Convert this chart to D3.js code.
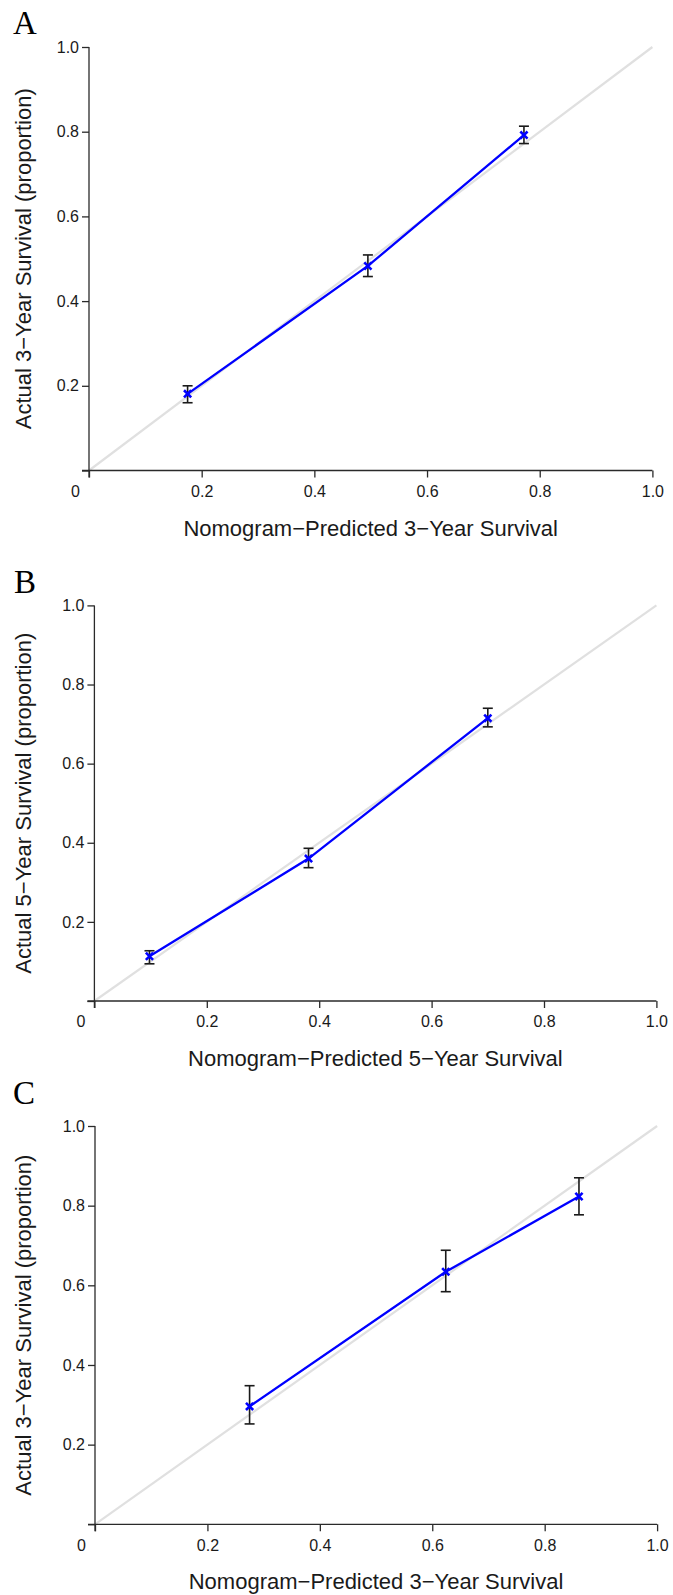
<!DOCTYPE html>
<html>
<head>
<meta charset="utf-8">
<script src="https://cdn.jsdelivr.net/npm/d3@7"></script>
<style>
  html, body { margin: 0; padding: 0; background: #ffffff; }
  svg { display: block; }
</style>
</head>
<body>
<script>
// Calibration curves: nomogram-predicted vs. observed survival, three panels.
const panelLabels = ["A", "B", "C"];
const xTitles = [
  "Nomogram\u2212Predicted 3\u2212Year Survival",
  "Nomogram\u2212Predicted 5\u2212Year Survival",
  "Nomogram\u2212Predicted 3\u2212Year Survival"
];
const yTitles = [
  "Actual 3\u2212Year Survival (proportion)",
  "Actual 5\u2212Year Survival (proportion)",
  "Actual 3\u2212Year Survival (proportion)"
];

const xTickValues = [0, 0.2, 0.4, 0.6, 0.8, 1.0];
const xTickLabels = ["0", "0.2", "0.4", "0.6", "0.8", "1.0"];
const yTickValues = [0, 0.2, 0.4, 0.6, 0.8, 1.0];
const yTickLabels = ["", "0.2", "0.4", "0.6", "0.8", "1.0"];

// Panel A (3-year)
const predictedA = [0.175, 0.495, 0.772];
const observedA  = [0.181, 0.483, 0.792];
const lowerA     = [0.160, 0.458, 0.772];
const upperA     = [0.200, 0.509, 0.813];

// Panel B (5-year)
const predictedB = [0.098, 0.381, 0.700];
const observedB  = [0.113, 0.360, 0.715];
const lowerB     = [0.094, 0.337, 0.693];
const upperB     = [0.127, 0.386, 0.740];

// Panel C (3-year)
const predictedC = [0.275, 0.624, 0.861];
const observedC  = [0.296, 0.634, 0.823];
const lowerC     = [0.252, 0.584, 0.777];
const upperC     = [0.348, 0.688, 0.870];

const panels = [
  { pred: predictedA, obs: observedA, lo: lowerA, hi: upperA },
  { pred: predictedB, obs: observedB, lo: lowerB, hi: upperB },
  { pred: predictedC, obs: observedC, lo: lowerC, hi: upperC }
];

// Plot frames (pixel boxes of each panel's axes)
const frames = [
  { left: 89.0, right: 652.4, top: 47.0,   bottom: 470.5,  labelX: 13, labelY: 34.3 },
  { left: 94.4, right: 656.4, top: 605.4,  bottom: 1001.0, labelX: 14, labelY: 593.0 },
  { left: 95.0, right: 657.1, top: 1126.0, bottom: 1524.3, labelX: 13, labelY: 1103.5 }
];

const W = 673, H = 1595;
const svg = d3.select("body").append("svg")
  .attr("width", W).attr("height", H)
  .attr("viewBox", `0 0 ${W} ${H}`);

const sans = "'Liberation Sans', Arial, Helvetica, sans-serif";
const serif = "'Liberation Serif', 'Times New Roman', serif";
const axisColor = "#2a2a2a";

panels.forEach((p, i) => {
  const f = frames[i];
  const g = svg.append("g");

  const x = d3.scaleLinear().domain([0, 1]).range([f.left, f.right]);
  const y = d3.scaleLinear().domain([0, 1]).range([f.bottom, f.top]);

  // panel letter
  g.append("text")
    .attr("x", f.labelX).attr("y", f.labelY)
    .attr("font-family", serif).attr("font-size", 33)
    .attr("fill", "#000")
    .text(panelLabels[i]);

  // ideal (45-degree) reference line
  g.append("line")
    .attr("x1", x(0)).attr("y1", y(0))
    .attr("x2", x(1)).attr("y2", y(1))
    .attr("stroke", "#e0e0e0").attr("stroke-width", 2.2);

  // x axis
  const xAxis = d3.axisBottom(x)
    .tickValues(xTickValues)
    .tickFormat((d, k) => xTickLabels[k])
    .tickSize(7).tickPadding(8).tickSizeOuter(0);
  const gx = g.append("g")
    .attr("transform", `translate(0,${f.bottom})`)
    .call(xAxis);
  gx.select(".domain").remove();
  gx.append("line")
    .attr("x1", x(0) - 7).attr("x2", x(1))
    .attr("stroke", axisColor).attr("stroke-width", 1.3);
  gx.selectAll(".tick line").attr("stroke", axisColor).attr("stroke-width", 1.3);
  gx.selectAll(".tick text")
    .attr("font-family", sans).attr("font-size", 16).attr("fill", "#1a1a1a");
  // origin label sits left of the corner
  gx.selectAll(".tick").filter(d => d === 0).select("text").attr("dx", -14);

  // y axis
  const yAxis = d3.axisLeft(y)
    .tickValues(yTickValues)
    .tickFormat((d, k) => yTickLabels[k])
    .tickSize(7).tickPadding(3).tickSizeOuter(0);
  const gy = g.append("g")
    .attr("transform", `translate(${f.left},0)`)
    .call(yAxis);
  gy.select(".domain").remove();
  gy.append("line")
    .attr("y1", y(0) + 7).attr("y2", y(1))
    .attr("stroke", axisColor).attr("stroke-width", 1.3);
  gy.selectAll(".tick line").attr("stroke", axisColor).attr("stroke-width", 1.3);
  gy.selectAll(".tick text")
    .attr("font-family", sans).attr("font-size", 16).attr("fill", "#1a1a1a");

  // axis titles
  g.append("text")
    .attr("x", (f.left + f.right) / 2).attr("y", f.bottom + 65)
    .attr("text-anchor", "middle")
    .attr("font-family", sans).attr("font-size", 22).attr("fill", "#1a1a1a")
    .text(xTitles[i]);
  g.append("text")
    .attr("transform", `translate(31,${(f.top + f.bottom) / 2}) rotate(-90)`)
    .attr("text-anchor", "middle")
    .attr("font-family", sans).attr("font-size", 22).attr("fill", "#1a1a1a")
    .text(yTitles[i]);

  const pts = p.pred.map((v, k) => ({ px: v, py: p.obs[k], lo: p.lo[k], hi: p.hi[k] }));

  // calibration curve
  g.append("path")
    .datum(pts)
    .attr("fill", "none")
    .attr("stroke", "#0000ff").attr("stroke-width", 2.3)
    .attr("d", d3.line().x(d => x(d.px)).y(d => y(d.py)));

  // error bars
  const eb = g.append("g").attr("stroke", "#1a1a1a").attr("stroke-width", 1.6);
  eb.selectAll("line.v").data(pts).join("line")
    .attr("x1", d => x(d.px)).attr("x2", d => x(d.px))
    .attr("y1", d => y(d.lo)).attr("y2", d => y(d.hi));
  eb.selectAll("line.lo").data(pts).join("line")
    .attr("x1", d => x(d.px) - 5).attr("x2", d => x(d.px) + 5)
    .attr("y1", d => y(d.lo)).attr("y2", d => y(d.lo));
  eb.selectAll("line.hi").data(pts).join("line")
    .attr("x1", d => x(d.px) - 5).attr("x2", d => x(d.px) + 5)
    .attr("y1", d => y(d.hi)).attr("y2", d => y(d.hi));

  // point markers (x symbols)
  const s = 3.6;
  g.append("g").selectAll("path").data(pts).join("path")
    .attr("d", d => {
      const cx = x(d.px), cy = y(d.py);
      return `M${cx - s},${cy - s}L${cx + s},${cy + s}M${cx - s},${cy + s}L${cx + s},${cy - s}`;
    })
    .attr("stroke", "#0000ff").attr("stroke-width", 2.6).attr("fill", "none");
});
</script>
</body>
</html>
